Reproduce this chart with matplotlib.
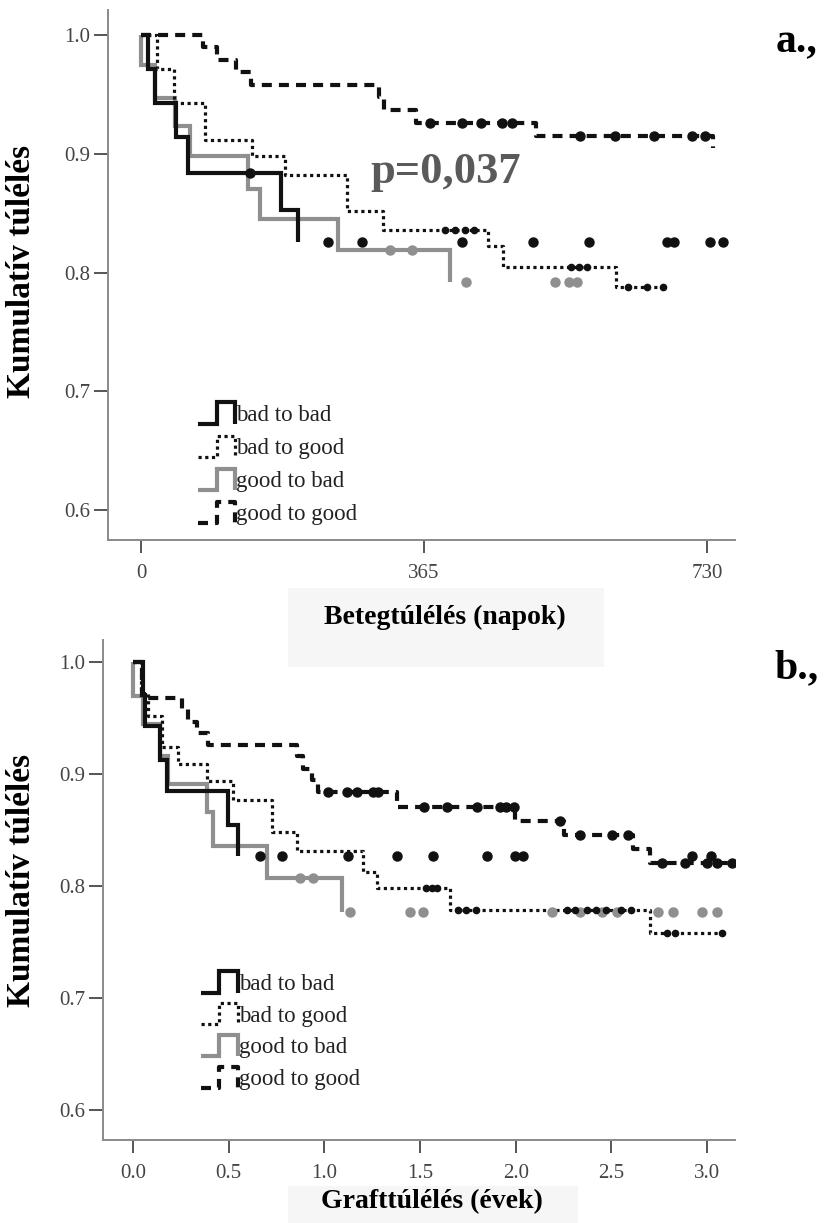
import numpy as np
import matplotlib
matplotlib.use("Agg")
import matplotlib.pyplot as plt
from matplotlib.lines import Line2D
from matplotlib.legend_handler import HandlerBase
from matplotlib.patches import Rectangle

plt.rcParams['font.family'] = ['Liberation Serif', 'DejaVu Serif']

# ---------------- data: panel a (patient survival, days) ----------------
group_labels = ["bad to bad", "bad to good", "good to bad", "good to good"]

a_bb_time = [9, 18, 45, 61, 181, 203]
a_bb_surv = [0.971, 0.943, 0.914, 0.884, 0.853, 0.826]
a_bb_cens = [141, 241, 285, 414, 506, 578, 678, 687, 734, 751]

a_bg_time = [21, 42, 82, 143, 186, 265, 312, 448, 467, 613]
a_bg_surv = [0.971, 0.943, 0.912, 0.898, 0.882, 0.852, 0.836, 0.822, 0.805, 0.788]
a_bg_cens = [392, 405, 418, 430, 555, 565, 575, 628, 652, 673]

a_gb_time = [0, 18, 44, 63, 138, 153, 254, 398]
a_gb_surv = [0.975, 0.947, 0.923, 0.898, 0.870, 0.845, 0.819, 0.792]
a_gb_cens = [321, 349, 419, 534, 552, 562]

a_gg_time = [80, 98, 122, 142, 307, 313, 354, 510, 738]
a_gg_surv = [0.990, 0.979, 0.969, 0.958, 0.948, 0.937, 0.926, 0.915, 0.905]
a_gg_cens = [373, 414, 439, 465, 478, 566, 611, 661, 710, 727]

a_ticks = [0, 365, 730]
a_pvalue = "p=0,037"

# ---------------- data: panel b (graft survival, years) ----------------
b_bb_time = [0.05, 0.065, 0.14, 0.176, 0.498, 0.55]
b_bb_surv = [0.971, 0.943, 0.913, 0.885, 0.855, 0.827]
b_bb_cens = [0.664, 0.777, 1.125, 1.378, 1.570, 1.849, 1.997, 2.040, 2.92, 3.02]

b_bg_time = [0.04, 0.08, 0.15, 0.235, 0.385, 0.524, 0.725, 0.856, 1.204, 1.274, 1.657, 2.70]
b_bg_surv = [0.973, 0.952, 0.924, 0.909, 0.894, 0.877, 0.848, 0.831, 0.813, 0.798, 0.779, 0.758]
b_bg_cens = [1.53, 1.56, 1.59, 1.70, 1.74, 1.79, 2.27, 2.31, 2.37, 2.42, 2.47, 2.55, 2.60,
             2.79, 2.83, 3.08]

b_gb_time = [0.0, 0.05, 0.141, 0.185, 0.385, 0.42, 0.699, 1.091]
b_gb_surv = [0.970, 0.945, 0.916, 0.891, 0.866, 0.836, 0.807, 0.777]
b_gb_cens = [0.873, 0.942, 1.134, 1.448, 1.516, 2.189, 2.337, 2.452, 2.53, 2.746, 2.824,
             2.973, 3.051]

b_gg_time = [0.045, 0.254, 0.289, 0.333, 0.394, 0.856, 0.89, 0.934, 0.969, 1.378, 1.997,
             2.25, 2.614, 2.70]
b_gg_surv = [0.968, 0.958, 0.947, 0.937, 0.926, 0.916, 0.905, 0.895, 0.884, 0.871, 0.858,
             0.846, 0.833, 0.821]
b_gg_cens = [1.021, 1.117, 1.169, 1.256, 1.282, 1.52, 1.64, 1.80, 1.92, 1.95, 1.99, 2.232,
             2.337, 2.502, 2.589, 2.764, 2.886, 3.00, 3.05, 3.13]

b_ticks = [0.0, 0.5, 1.0, 1.5, 2.0, 2.5, 3.0]
y_ticks = [0.6, 0.7, 0.8, 0.9, 1.0]

# ---------------- styles ----------------
BLACK = '#111111'
GRAY = '#8f8f8f'
line_styles = {
    "bad to bad": dict(color=BLACK, lw=3.0, solid_joinstyle='miter', solid_capstyle='butt'),
    "bad to good": dict(color=BLACK, lw=2.3, linestyle=(0, (1.0, 1.1)),
                        dash_capstyle='butt'),
    "good to bad": dict(color=GRAY, lw=3.0, solid_joinstyle='miter', solid_capstyle='butt'),
    "good to good": dict(color=BLACK, lw=3.0, linestyle=(0, (2.4, 1.7)),
                         dash_capstyle='butt'),
}
marker_styles = {
    "bad to bad": dict(marker='o', ms=6.5, color=BLACK, mec=BLACK),
    "bad to good": dict(marker='o', ms=4.5, color=BLACK, mec=BLACK),
    "good to bad": dict(marker='o', ms=6.5, color=GRAY, mec=GRAY),
    "good to good": dict(marker='o', ms=6.5, color=BLACK, mec=BLACK),
}
draw_order = ["good to bad", "bad to good", "good to good", "bad to bad"]


def km_curve(ax, label, times, surv, end, censored):
    t0 = np.concatenate([[0.0], np.asarray(times, float)])
    s0 = np.concatenate([[1.0], np.asarray(surv, float)])
    t = np.concatenate([t0, [end]])
    s = np.concatenate([s0, [s0[-1]]])
    ax.step(t, s, where='post', zorder=3, **line_styles[label])
    if len(censored):
        ct = np.asarray(censored, float)
        idx = np.searchsorted(t0, ct, side='right') - 1
        ax.plot(ct, s0[idx], linestyle='none', zorder=4, **marker_styles[label])


class StepHandler(HandlerBase):
    """Legend key drawn as a small step (up, across, down)."""
    def create_artists(self, legend, orig_handle, xdescent, ydescent,
                       width, height, fontsize, trans):
        xs = np.array([0.0, 0.5, 0.5, 1.0, 1.0]) * width - xdescent
        ys = np.array([0.0, 0.0, 1.0, 1.0, 0.0]) * height - ydescent
        ln = Line2D(xs, ys)
        self.update_prop(ln, orig_handle, legend)
        ln.set_transform(trans)
        return [ln]


def style_axes(ax):
    for side in ('top', 'right'):
        ax.spines[side].set_visible(False)
    for side in ('left', 'bottom'):
        ax.spines[side].set_color('#8a8a8a')
        ax.spines[side].set_linewidth(1.4)
    ax.tick_params(direction='out', width=1.4, color='#555555',
                   labelsize=15, labelcolor='#444444')
    ax.tick_params(axis='y', length=10, pad=3)
    ax.tick_params(axis='x', length=9, pad=8)
    ax.set_yticks(y_ticks)
    ax.set_yticklabels([f"{v:.1f}" for v in y_ticks])


def add_legend(ax, anchor, spacing):
    handles = [Line2D([], [], **line_styles[g]) for g in group_labels]
    leg = ax.legend(handles, group_labels, loc='lower left', bbox_to_anchor=anchor,
                    frameon=False, fontsize=16.5, handlelength=1.6, handleheight=1.05,
                    handletextpad=0.05, labelspacing=spacing, borderpad=0,
                    borderaxespad=0, handler_map={Line2D: StepHandler()})
    for txt in leg.get_texts():
        txt.set_color('#222222')


W, H = 827, 1223
fig = plt.figure(figsize=(W / 100, H / 100), dpi=100)


def frac_box(x0, y0, x1, y1):
    return [x0 / W, 1 - y1 / H, (x1 - x0) / W, (y1 - y0) / H]


# faint panels behind the x-axis titles
for (x0, y0, x1, y1) in [(288, 588, 604, 667), (288, 1186, 578, 1223)]:
    fig.patches.append(Rectangle((x0 / W, 1 - y1 / H), (x1 - x0) / W, (y1 - y0) / H,
                                 transform=fig.transFigure, facecolor='#f6f6f6',
                                 edgecolor='none', zorder=-5))

# ---------------- panel a ----------------
ax_a = fig.add_axes(frac_box(108, 10, 735, 540))
ax_a.patch.set_alpha(0)
series_a = {
    "bad to bad": (a_bb_time, a_bb_surv, a_bb_time[-1], a_bb_cens),
    "bad to good": (a_bg_time, a_bg_surv, a_bg_cens[-1], a_bg_cens),
    "good to bad": (a_gb_time, a_gb_surv, a_gb_time[-1], a_gb_cens),
    "good to good": (a_gg_time, a_gg_surv, a_gg_time[-1], a_gg_cens),
}
for g in draw_order:
    km_curve(ax_a, g, *series_a[g])
ax_a.set_xlim(-42.6, 766)
ax_a.set_ylim(0.575, 1.021)
style_axes(ax_a)
ax_a.set_xticks(a_ticks)
ax_a.set_xticklabels([str(v) for v in a_ticks])
ax_a.set_ylabel("Kumulatív túlélés", fontsize=24, fontweight='bold')
ax_a.yaxis.set_label_coords(-0.114, 0.506)
ax_a.set_xlabel("Betegtúlélés (napok)", fontsize=20, fontweight='bold')
ax_a.xaxis.set_label_coords(0.537, -0.123)
add_legend(ax_a, (0.144, 0.028), 0.42)
fig.text(446 / W, 1 - 172 / H, a_pvalue, fontsize=32, fontweight='bold',
         color='#5a5a5a', ha='center', va='center')
fig.text(797 / W, 1 - 42 / H, "a.,", fontsize=30, fontweight='bold',
         ha='center', va='center')

# ---------------- panel b ----------------
ax_b = fig.add_axes(frac_box(103, 640, 735, 1140))
ax_b.patch.set_alpha(0)
series_b = {
    "bad to bad": (b_bb_time, b_bb_surv, b_bb_time[-1], b_bb_cens),
    "bad to good": (b_bg_time, b_bg_surv, b_bg_cens[-1], b_bg_cens),
    "good to bad": (b_gb_time, b_gb_surv, b_gb_time[-1], b_gb_cens),
    "good to good": (b_gg_time, b_gg_surv, b_gg_cens[-1], b_gg_cens),
}
for g in draw_order:
    km_curve(ax_b, g, *series_b[g])
ax_b.set_xlim(-0.157, 3.146)
ax_b.set_ylim(0.573, 1.02)
style_axes(ax_b)
ax_b.set_xticks(b_ticks)
ax_b.set_xticklabels([f"{v:.1f}" for v in b_ticks])
ax_b.set_ylabel("Kumulatív túlélés", fontsize=24, fontweight='bold')
ax_b.yaxis.set_label_coords(-0.105, 0.52)
ax_b.set_xlabel("Grafttúlélés (évek)", fontsize=20, fontweight='bold')
ax_b.xaxis.set_label_coords(0.52, -0.098)
add_legend(ax_b, (0.155, 0.10), 0.36)
fig.text(797 / W, 1 - 668 / H, "b.,", fontsize=30, fontweight='bold',
         ha='center', va='center')

fig.savefig("out.png", dpi=100)
